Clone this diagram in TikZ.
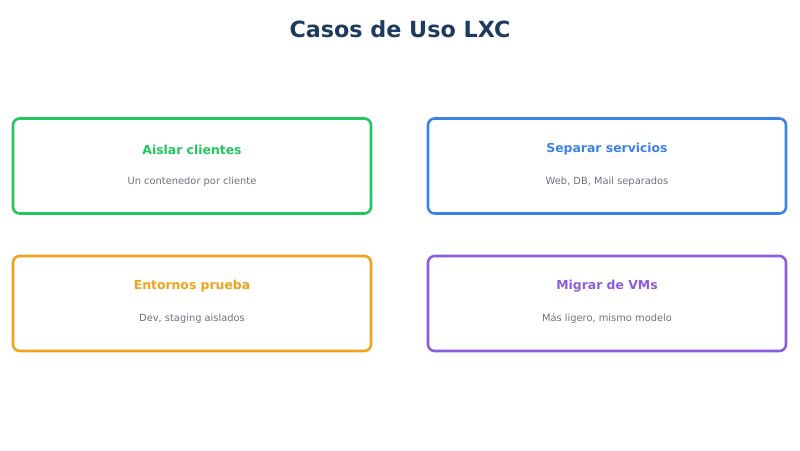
\documentclass[tikz,border=0pt]{standalone}
\usepackage{fontspec}
\setmainfont{DejaVu Sans}
\definecolor{titleblue}{HTML}{1E3A5F}
\definecolor{subgray}{HTML}{6B7280}
\definecolor{cgreen}{HTML}{22C55E}
\definecolor{cblue}{HTML}{3B82E6}
\definecolor{corange}{HTML}{F0A11A}
\definecolor{cpurple}{HTML}{8B5CDC}
\begin{document}
\begin{tikzpicture}[x=0.75pt,y=-0.75pt,
  usecase/.style={draw=#1, line width=1.9pt, rounded corners=5pt, fill=white,
    minimum width=268.5pt, minimum height=71.25pt, inner sep=0pt},
  casetitle/.style={text=#1, font=\bfseries\fontsize{9.3}{11}\selectfont},
  casesub/.style={text=subgray, font=\fontsize{7.4}{9}\selectfont}]
\useasboundingbox (0,0) rectangle (800,450);
\node[text=titleblue, font=\bfseries\fontsize{16.7}{20}\selectfont] (title) at (400,29.5) {Casos de Uso LXC};
\node[usecase=cgreen] (b1) at (192,166) {};
\node[usecase=cblue] (b2) at (607,166) {};
\node[usecase=corange] (b3) at (192,303.5) {};
\node[usecase=cpurple] (b4) at (607,303.5) {};
\node[casetitle=cgreen] (t1) at (192,149.5) {Aislar clientes};
\node[casesub] (s1) at (192,181.5) {Un contenedor por cliente};
\node[casetitle=cblue] (t2) at (607,149.5) {Separar servicios};
\node[casesub] (s2) at (607,181.5) {Web, DB, Mail separados};
\node[casetitle=corange] (t3) at (192,286.5) {Entornos prueba};
\node[casesub] (s3) at (192,318.5) {Dev, staging aislados};
\node[casetitle=cpurple] (t4) at (607,286.5) {Migrar de VMs};
\node[casesub] (s4) at (607,318.5) {Más ligero, mismo modelo};
\end{tikzpicture}
\end{document}
